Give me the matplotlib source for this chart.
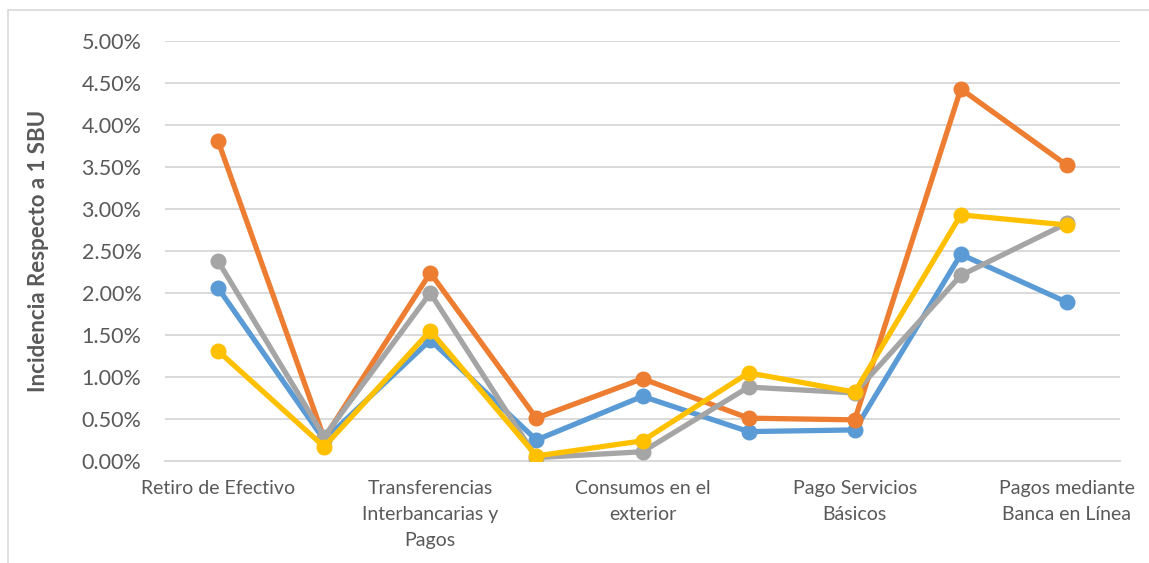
import matplotlib
matplotlib.use("Agg")
import matplotlib.pyplot as plt
from matplotlib.patches import Rectangle
from matplotlib.ticker import FuncFormatter, MultipleLocator

plt.rcParams['font.family'] = ['Lato', 'DejaVu Sans']

# Category labels (only every other category carries a visible label)
categories = [
    "Retiro de Efectivo", "",
    "Transferencias\nInterbancarias y\nPagos", "",
    "Consumos en el\nexterior", "",
    "Pago Servicios\nBásicos", "",
    "Pagos mediante\nBanca en Línea",
]

# Incidence values (% of one SBU)
serie_azul = [2.06, 0.25, 1.44, 0.25, 0.77, 0.35, 0.37, 2.46, 1.89]
serie_naranja = [3.81, 0.27, 2.24, 0.51, 0.98, 0.51, 0.49, 4.43, 3.52]
serie_gris = [2.38, 0.29, 2.00, 0.04, 0.11, 0.88, 0.81, 2.21, 2.83]
serie_amarilla = [1.31, 0.17, 1.55, 0.06, 0.24, 1.05, 0.82, 2.93, 2.81]

series = [
    (serie_azul, "#5B9BD5"),
    (serie_naranja, "#ED7D31"),
    (serie_gris, "#A5A5A5"),
    (serie_amarilla, "#FFC000"),
]

fig = plt.figure(figsize=(11.49, 5.63), dpi=100)
W, H = 1149, 563

# Chart frame
fig.patches.append(Rectangle((8 / W, -0.05), 1.2, 1 - 10 / H + 0.05,
                             transform=fig.transFigure, fill=False,
                             edgecolor="#D9D9D9", linewidth=1.2))

ax = fig.add_axes([165 / W, 1 - 461 / H, (1120 - 165) / W, (461 - 41) / H])

x = list(range(len(categories)))
for values, color in series:
    ax.plot(x, values, color=color, linewidth=3.8, marker="o",
            markersize=10.5, solid_capstyle="round", solid_joinstyle="round",
            zorder=3)

ax.set_xlim(-0.5, len(categories) - 0.5)
ax.set_ylim(0, 5.0)
ax.yaxis.set_major_locator(MultipleLocator(0.5))
ax.yaxis.set_major_formatter(FuncFormatter(lambda v, _: f"{v:.2f}%"))
ax.grid(axis="y", color="#D9D9D9", linewidth=1.4, zorder=0)
ax.set_axisbelow(True)

for side in ("top", "right", "left"):
    ax.spines[side].set_visible(False)
ax.spines["bottom"].set_color("#D9D9D9")
ax.spines["bottom"].set_linewidth(1.4)

ax.set_xticks(x[::2])
ax.set_xticklabels(categories[::2], linespacing=1.62)
ax.tick_params(axis="x", length=0, pad=14, labelsize=14, labelcolor="#595959")
ax.tick_params(axis="y", length=0, pad=17, labelsize=15.5, labelcolor="#595959")

ax.set_ylabel("Incidencia Respecto a 1 SBU", fontsize=16, fontweight="bold",
              color="#595959", labelpad=23)

fig.savefig("out.png", dpi=100)
